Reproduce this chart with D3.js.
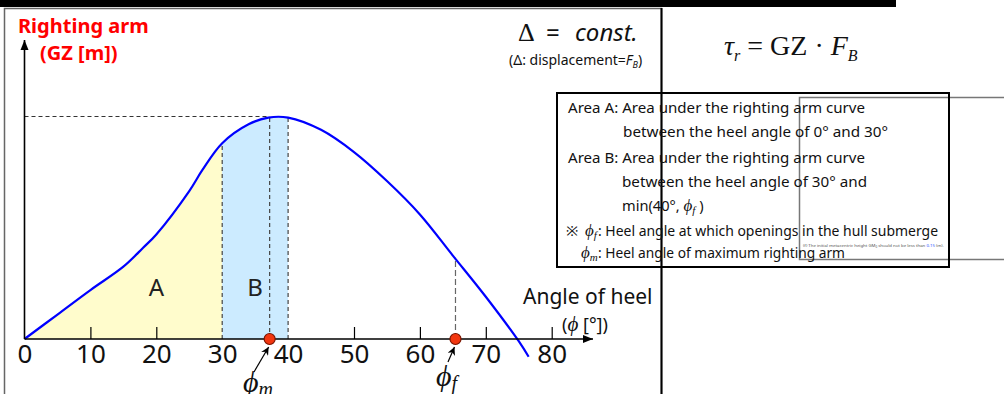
<!DOCTYPE html>
<html><head><meta charset="utf-8">
<script src="https://cdn.jsdelivr.net/npm/d3@7"></script>
<style>
html,body{margin:0;padding:0;background:#fff;}
svg{display:block;}
</style></head>
<body>
<svg id="c" width="1004" height="394" font-family="'Noto Sans',sans-serif"></svg>
<script>
// ---- data ----
const angles = [0, 5, 10, 15, 18, 20, 25, 27, 30, 34, 37, 40, 45, 50, 55, 60, 65, 70, 75, 76.5];
const gz     = [0, 0.11, 0.22, 0.325, 0.41, 0.47, 0.665, 0.76, 0.88, 0.965, 0.995, 0.995, 0.94, 0.84, 0.71, 0.56, 0.375, 0.19, -0.01, -0.08];
const tickAngles = [0, 10, 20, 30, 40, 50, 60, 70, 80];
const hiddenTicks = [0, 30, 40];
const phiM = 37.2, gzMax = 1.0;
const phiF = 65.4, gzPhiF = 0.365;
const areaAEnd = 30, areaBEnd = 40;
const legendLines = [
  "Area A: Area under the righting arm curve",
  "between the heel angle of 0\u00B0 and 30\u00B0",
  "Area B: Area under the righting arm curve",
  "between the heel angle of 30\u00B0 and"
];

const SERIF = "'Liberation Serif','Times New Roman',serif";
const svg = d3.select("#c");
const x = d3.scaleLinear().domain([0, 80]).range([24.5, 551.7]);
const y = d3.scaleLinear().domain([0, 1]).range([339, 116.5]);
const pts = angles.map((a, i) => ({a, g: gz[i]}));

// frame / slide decorations
svg.append("rect").attr("x", 0).attr("y", 0).attr("width", 896).attr("height", 7).attr("fill", "#000");
svg.append("rect").attr("x", 4.5).attr("y", 8.5).attr("width", 657).attr("height", 400)
  .attr("fill", "none").attr("stroke", "#666").attr("stroke-width", 1.5);
svg.append("line").attr("x1", 661.5).attr("x2", 661.5).attr("y1", 8).attr("y2", 394).attr("stroke", "#000").attr("stroke-width", 2);

// areas (clipped from full curve)
const curve = d3.curveCatmullRom.alpha(0.5);
const defs = svg.append("defs");
defs.append("clipPath").attr("id", "clipA").append("rect")
  .attr("x", x(0)).attr("y", 0).attr("width", x(areaAEnd) - x(0)).attr("height", 394);
defs.append("clipPath").attr("id", "clipB").append("rect")
  .attr("x", x(areaAEnd)).attr("y", 0).attr("width", x(areaBEnd) - x(areaAEnd)).attr("height", 394);
const area = d3.area().x(d => x(d.a)).y0(y(0)).y1(d => y(d.g)).curve(curve);
const fillPts = pts.filter(d => d.a <= 45);
svg.append("path").datum(fillPts).attr("d", area).attr("fill", "#FFFCCC").attr("clip-path", "url(#clipA)");
svg.append("path").datum(fillPts).attr("d", area).attr("fill", "#CCEBFF").attr("clip-path", "url(#clipB)");

// dashed guide lines
const dash = "4,3";
const gzAt = a => gz[angles.indexOf(a)];
svg.append("line").attr("x1", x(0)).attr("x2", x(phiM)).attr("y1", y(gzMax)).attr("y2", y(gzMax))
  .attr("stroke", "#333").attr("stroke-width", 1.2).attr("stroke-dasharray", dash);
[[areaAEnd, gzAt(areaAEnd)], [phiM, gzMax], [areaBEnd, gzAt(areaBEnd)]].forEach(([a, g]) => {
  svg.append("line").attr("x1", x(a)).attr("x2", x(a)).attr("y1", y(0)).attr("y2", y(g))
    .attr("stroke", "#444").attr("stroke-width", 1.2).attr("stroke-dasharray", dash);
});
svg.append("line").attr("x1", x(phiF)).attr("x2", x(phiF)).attr("y1", y(0)).attr("y2", y(gzPhiF))
  .attr("stroke", "#666").attr("stroke-width", 1.2).attr("stroke-dasharray", "6,3");

// curve
svg.append("path").datum(pts).attr("d", d3.line().x(d => x(d.a)).y(d => y(d.g)).curve(curve))
  .attr("fill", "none").attr("stroke", "#0000FF").attr("stroke-width", 2.2);

// arrow markers
defs.append("marker").attr("id", "ah").attr("viewBox", "0 0 10 10").attr("refX", 10).attr("refY", 5)
  .attr("markerWidth", 10).attr("markerHeight", 10).attr("markerUnits", "userSpaceOnUse").attr("orient", "auto")
  .append("path").attr("d", "M0,1 L10,5 L0,9 Z").attr("fill", "#000");
defs.append("marker").attr("id", "ah2").attr("viewBox", "0 0 10 10").attr("refX", 10).attr("refY", 5)
  .attr("markerWidth", 8).attr("markerHeight", 8).attr("markerUnits", "userSpaceOnUse").attr("orient", "auto")
  .append("path").attr("d", "M0,0 L10,5 L0,10 L3,5 Z").attr("fill", "#000");

// axes lines with arrows
svg.append("line").attr("x1", x(0)).attr("x2", 593).attr("y1", y(0)).attr("y2", y(0))
  .attr("stroke", "#000").attr("stroke-width", 1.6).attr("marker-end", "url(#ah)");
svg.append("line").attr("x1", x(0)).attr("x2", x(0)).attr("y1", y(0)).attr("y2", 40)
  .attr("stroke", "#000").attr("stroke-width", 1.6).attr("marker-end", "url(#ah)");

// ticks & labels
const ax = d3.axisBottom(x).tickValues(tickAngles).tickSizeInner(-12).tickSizeOuter(0).tickPadding(6);
const g = svg.append("g").attr("transform", `translate(0,${y(0)})`).call(ax);
g.attr("font-family", null).attr("font-size", null);
g.select(".domain").remove();
g.selectAll(".tick line").attr("stroke", "#000").attr("stroke-width", 1.2)
  .filter(d => hiddenTicks.includes(d)).remove();
g.selectAll(".tick text").attr("font-size", 26).attr("fill", "#111");

// area labels
svg.append("text").attr("x", x(20)).attr("y", 296).attr("text-anchor", "middle").attr("font-size", 24).attr("fill", "#222").text("A");
svg.append("text").attr("x", x(35)).attr("y", 296).attr("text-anchor", "middle").attr("font-size", 24).attr("fill", "#222").text("B");

// axis title
svg.append("text").attr("x", 523).attr("y", 304).attr("font-size", 21).attr("fill", "#111").text("Angle of heel");
const at = svg.append("text").attr("x", 562).attr("y", 331).attr("font-size", 18).attr("fill", "#111");
at.append("tspan").text("(");
at.append("tspan").attr("font-family", SERIF).attr("font-style", "italic").attr("font-size", 21).text("\u03D5");
at.append("tspan").text(" [\u00B0])");

// y title
svg.append("text").attr("x", 18).attr("y", 33).attr("font-size", 20).attr("font-weight", "bold").attr("fill", "#FF0000").text("Righting arm");
svg.append("text").attr("x", 40).attr("y", 60).attr("font-size", 20).attr("font-weight", "bold").attr("fill", "#FF0000").text("(GZ [m])");

// markers
[phiM, phiF].forEach(a => {
  svg.append("circle").attr("cx", x(a)).attr("cy", y(0)).attr("r", 5.5)
    .attr("fill", "#F2360F").attr("stroke", "#7A1500").attr("stroke-width", 1.2);
});
svg.append("line").attr("x1", 254).attr("y1", 372).attr("x2", x(phiM) - 1).attr("y2", 347)
  .attr("stroke", "#000").attr("stroke-width", 1.2).attr("marker-end", "url(#ah2)");
svg.append("line").attr("x1", 448).attr("y1", 362).attr("x2", x(phiF) - 1).attr("y2", 347)
  .attr("stroke", "#000").attr("stroke-width", 1.2).attr("marker-end", "url(#ah2)");
const pm = svg.append("text").attr("x", 243).attr("y", 392).attr("font-family", SERIF).attr("font-style", "italic").attr("font-size", 30).attr("fill", "#111");
pm.append("tspan").text("\u03D5");
pm.append("tspan").attr("font-size", 20).attr("dy", 4).text("m");
const pf = svg.append("text").attr("x", 436).attr("y", 386).attr("font-family", SERIF).attr("font-style", "italic").attr("font-size", 30).attr("fill", "#111");
pf.append("tspan").text("\u03D5");
pf.append("tspan").attr("font-size", 20).attr("dy", 4).text("f");

// top formulas
svg.append("text").attr("x", 518).attr("y", 41).attr("font-family", SERIF).attr("font-size", 26).attr("fill", "#111").text("\u0394");
svg.append("text").attr("x", 546).attr("y", 41).attr("font-size", 24).attr("fill", "#111").text("=");
svg.append("text").attr("x", 575).attr("y", 41).attr("font-size", 24).attr("font-style", "italic").attr("fill", "#111").text("const.");
const ds = svg.append("text").attr("x", 509).attr("y", 65).attr("font-size", 14).attr("fill", "#111");
ds.append("tspan").text("(\u0394: displacement=");
ds.append("tspan").attr("font-style", "italic").text("F");
ds.append("tspan").attr("font-style", "italic").attr("font-size", 9).attr("dy", 3).text("B");
ds.append("tspan").attr("dy", -3).text(")");

const ft = svg.append("text").attr("x", 724).attr("y", 55).attr("font-family", SERIF).attr("font-size", 28).attr("fill", "#111");
ft.append("tspan").attr("font-style", "italic").text("\u03C4");
ft.append("tspan").attr("font-style", "italic").attr("font-size", 16).attr("dy", 6).text("r");
ft.append("tspan").attr("dy", -6).text(" = GZ \u00B7 ");
ft.append("tspan").attr("font-style", "italic").text("F");
ft.append("tspan").attr("font-style", "italic").attr("font-size", 16).attr("dy", 6).text("B");

// overlay image frame (pasted box)
svg.append("path").attr("d", "M1010,97.5 H799.5 V259.5 H1010").attr("fill", "none").attr("stroke", "#777").attr("stroke-width", 1.5);
const tiny = svg.append("text").attr("x", 803).attr("y", 247).attr("font-size", 4.3).attr("fill", "#555");
tiny.append("tspan").text("(f) The initial metacentric height GM");
tiny.append("tspan").attr("font-size", 3).attr("dy", 1).text("0");
tiny.append("tspan").attr("dy", -1).text(" should not be less than ");
tiny.append("tspan").attr("fill", "#3355FF").text("0.15");
tiny.append("tspan").text(" (m).");

// legend box
svg.append("rect").attr("x", 557).attr("y", 93).attr("width", 392).attr("height", 174)
  .attr("fill", "none").attr("stroke", "#000").attr("stroke-width", 2);
const lg = svg.append("g").attr("font-size", 14.6).attr("fill", "#111");
const fit = (sel, len) => sel.attr("textLength", len).attr("lengthAdjust", "spacingAndGlyphs");
fit(lg.append("text").attr("x", 568).attr("y", 113).text(legendLines[0]), 297);
fit(lg.append("text").attr("x", 623).attr("y", 137).text(legendLines[1]), 265);
fit(lg.append("text").attr("x", 568).attr("y", 163).text(legendLines[2]), 297);
fit(lg.append("text").attr("x", 622).attr("y", 187).text(legendLines[3]), 245);
const phiSpan = (t, sub) => {
  t.append("tspan").attr("font-family", SERIF).attr("font-style", "italic").attr("font-size", 17).text("\u03D5");
  t.append("tspan").attr("font-family", SERIF).attr("font-style", "italic").attr("font-size", 11).attr("dy", 3).text(sub);
};
const l5 = lg.append("text").attr("x", 622).attr("y", 211);
l5.append("tspan").text("min(40\u00B0, ");
phiSpan(l5, "f");
l5.append("tspan").attr("dy", -3).text(" )");
lg.append("text").attr("x", 566).attr("y", 236).text("\u203B");
const l6 = lg.append("text").attr("x", 585).attr("y", 236);
phiSpan(l6, "f");
fit(lg.append("text").attr("x", 598).attr("y", 236).text(": Heel angle at which openings in the hull submerge"), 340);
const l7 = lg.append("text").attr("x", 581).attr("y", 258);
phiSpan(l7, "m");
fit(lg.append("text").attr("x", 598).attr("y", 258).text(": Heel angle of maximum righting arm"), 247);
</script>
</body></html>
